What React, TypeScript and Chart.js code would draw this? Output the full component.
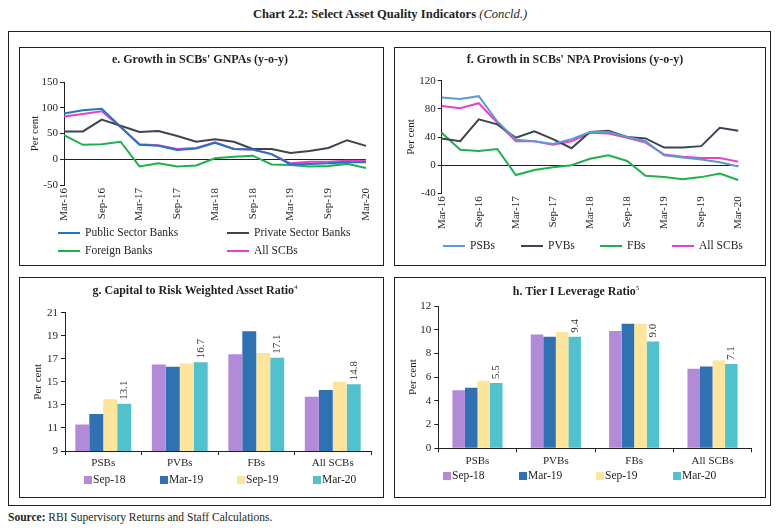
import React, { useEffect, useRef } from 'react';
import { Chart, registerables } from 'chart.js';

Chart.register(...registerables);

const FONT = "'Liberation Serif', 'Times New Roman', serif";
const INK = '#231f20';

// ---------- data ----------
const quarters = ['Mar-16', 'Jun-16', 'Sep-16', 'Dec-16', 'Mar-17', 'Jun-17', 'Sep-17', 'Dec-17', 'Mar-18', 'Jun-18', 'Sep-18', 'Dec-18', 'Mar-19', 'Jun-19', 'Sep-19', 'Dec-19', 'Mar-20'];

// e. Growth in SCBs' GNPAs (y-o-y)
const gnpaPSBs = [89, 95, 98, 63, 28, 26, 18, 21, 32, 20, 19, 10, -10, -9, -8, -6, -6];
const gnpaPVBs = [54, 54, 77, 65, 53, 55, 45, 34, 39, 34, 20, 20, 12, 16, 22, 37, 26];
const gnpaFBs = [47, 28, 29, 34, -14, -8, -14, -12, 2, 5, 7, -10, -11, -14, -13, -9, -17];
const gnpaAll = [83, 88, 93, 62, 29, 27, 20, 22, 33, 20, 19, 10, -8, -5, -5, -3, -3];

// f. Growth in SCBs' NPA Provisions (y-o-y)
const provPSBs = [96, 94, 98, 62, 36, 34, 30, 37, 47, 47, 40, 34, 14, 11, 8, 4, -2];
const provPVBs = [38, 34, 65, 58, 39, 48, 37, 24, 47, 49, 40, 38, 25, 25, 27, 53, 49];
const provFBs = [46, 22, 20, 23, -14, -7, -3, 0, 9, 14, 6, -15, -17, -20, -17, -12, -21];
const provAll = [84, 81, 88, 60, 34, 34, 29, 34, 46, 45, 39, 32, 15, 12, 10, 10, 5];

// g / h bar charts
const bankGroups = ['PSBs', 'PVBs', 'FBs', 'All SCBs'];
const periods = ['Sep-18', 'Mar-19', 'Sep-19', 'Mar-20'];

const crarSep18 = [11.3, 16.5, 17.4, 13.7];
const crarMar19 = [12.2, 16.3, 19.4, 14.3];
const crarSep19 = [13.5, 16.6, 17.5, 15.0];
const crarMar20 = [13.1, 16.7, 17.1, 14.8];

const levSep18 = [4.9, 9.6, 9.9, 6.7];
const levMar19 = [5.1, 9.4, 10.5, 6.9];
const levSep19 = [5.7, 9.8, 10.5, 7.4];
const levMar20 = [5.5, 9.4, 9.0, 7.1];

// ---------- styles ----------
const lineColorsE = ['#1f77c4', '#3d4451', '#1fb04f', '#e840c8'];
const lineColorsF = ['#5b9bd5', '#3d4451', '#1fb04f', '#e840c8'];
const barColors = ['#b38ad8', '#2e72b4', '#fde69b', '#4fc1cf'];

type Box = { x: number; y: number; w: number; h: number };
type Area = { l: number; r: number; t: number; b: number };

function mkLayout(c: Box, a: Area, titleX: number, xH: number) {
  const lh = 11 * 1.2;
  const padLeft = titleX - c.x - lh / 2;
  return {
    padding: { left: padLeft, top: a.t - c.y, right: c.x + c.w - a.r, bottom: c.y + c.h - a.b - xH },
    yW: a.l - c.x - padLeft,
    xH,
  };
}

const tickFont = { family: FONT, size: 11 };

function lineConfig(series: { label: string; data: number[]; color: string }[], yMin: number, yMax: number, step: number, lay: any): any {
  return {
    type: 'line',
    data: {
      labels: quarters,
      datasets: series.map((s) => ({
        label: s.label,
        data: s.data,
        borderColor: s.color,
        backgroundColor: s.color,
        borderWidth: 2,
        pointRadius: 0,
        tension: 0,
        fill: false,
      })),
    },
    options: {
      responsive: false,
      animation: false,
      devicePixelRatio: 1,
      layout: { padding: lay.padding },
      plugins: { legend: { display: false }, title: { display: false }, tooltip: { enabled: false } },
      scales: {
        x: {
          border: { display: false },
          grid: { display: false, drawTicks: false },
          ticks: {
            autoSkip: false,
            maxRotation: 90,
            minRotation: 90,
            padding: 3,
            color: INK,
            font: tickFont,
            callback: (_v: any, i: number) => (i % 2 === 0 ? quarters[i] : ''),
          },
          afterFit: (s: any) => {
            s.height = lay.xH;
            s.paddingLeft = 0;
            s.paddingRight = 0;
          },
        },
        y: {
          min: yMin,
          max: yMax,
          border: { display: true, color: INK, width: 1 },
          grid: {
            color: (c: any) => (c.tick && c.tick.value === 0 ? INK : 'rgba(0,0,0,0)'),
            drawTicks: true,
            tickLength: 4,
            tickColor: INK,
            lineWidth: 1,
          },
          ticks: { stepSize: step, padding: 2, color: INK, font: tickFont },
          title: { display: true, text: 'Per cent', color: INK, font: tickFont, padding: 0 },
          afterFit: (s: any) => {
            s.width = lay.yW;
            s.paddingTop = 0;
            s.paddingBottom = 0;
          },
        },
      },
    },
  };
}

const barLabelPlugin = {
  id: 'lastBarLabels',
  afterDatasetsDraw(chart: any) {
    const ctx = chart.ctx;
    const di = chart.data.datasets.length - 1;
    const meta = chart.getDatasetMeta(di);
    meta.data.forEach((bar: any, i: number) => {
      const v = chart.data.datasets[di].data[i];
      ctx.save();
      ctx.translate(bar.x, bar.y - 4);
      ctx.rotate(-Math.PI / 2);
      ctx.font = `11px ${FONT}`;
      ctx.fillStyle = '#333';
      ctx.textAlign = 'left';
      ctx.textBaseline = 'middle';
      ctx.fillText(Number(v).toFixed(1), 0, 0);
      ctx.restore();
    });
  },
};

function barConfig(values: number[][], yMin: number, yMax: number, step: number, catPct: number, lay: any): any {
  return {
    type: 'bar',
    data: {
      labels: bankGroups,
      datasets: values.map((d, i) => ({
        label: periods[i],
        data: d,
        backgroundColor: barColors[i],
        borderWidth: 0,
        barPercentage: 1,
        categoryPercentage: catPct,
      })),
    },
    options: {
      responsive: false,
      animation: false,
      devicePixelRatio: 1,
      layout: { padding: lay.padding },
      plugins: { legend: { display: false }, title: { display: false }, tooltip: { enabled: false } },
      scales: {
        x: {
          border: { display: true, color: INK, width: 1 },
          grid: { display: true, drawOnChartArea: false, drawTicks: true, tickLength: 4, color: INK, offset: true },
          ticks: { padding: 2, color: INK, font: tickFont, maxRotation: 0 },
          afterFit: (s: any) => {
            s.height = lay.xH;
            s.paddingLeft = 0;
            s.paddingRight = 0;
          },
        },
        y: {
          min: yMin,
          max: yMax,
          border: { display: true, color: INK, width: 1 },
          grid: { drawOnChartArea: false, drawTicks: true, tickLength: 4, color: INK },
          ticks: { stepSize: step, padding: 3, color: INK, font: tickFont },
          title: { display: true, text: 'Per cent', color: INK, font: tickFont, padding: 0 },
          afterFit: (s: any) => {
            s.width = lay.yW;
            s.paddingTop = 0;
            s.paddingBottom = 0;
          },
        },
      },
    },
    plugins: [barLabelPlugin],
  };
}

function ChartCanvas({ box, makeConfig }: { box: Box; makeConfig: () => any }) {
  const ref = useRef<HTMLCanvasElement | null>(null);
  useEffect(() => {
    const chart = new Chart(ref.current as HTMLCanvasElement, makeConfig());
    return () => chart.destroy();
  }, []);
  return (
    <canvas
      ref={ref}
      width={box.w}
      height={box.h}
      style={{ position: 'absolute', left: box.x, top: box.y, width: box.w, height: box.h }}
    />
  );
}

function T({ x, y, children, align = 'center', style = {} }: any) {
  const tx = align === 'center' ? '-50%' : align === 'right' ? '-100%' : '0';
  return (
    <div
      style={{
        position: 'absolute',
        left: x,
        top: y,
        transform: `translate(${tx}, -50%)`,
        whiteSpace: 'nowrap',
        fontFamily: FONT,
        fontSize: 11,
        color: INK,
        lineHeight: 1,
        ...style,
      }}
    >
      {children}
    </div>
  );
}

function Frame({ x, y, w, h }: any) {
  return <div style={{ position: 'absolute', left: x, top: y, width: w, height: h, border: `1px solid ${INK}`, boxSizing: 'border-box' }} />;
}

function LineKey({ x, y, color, label }: any) {
  return (
    <>
      <div style={{ position: 'absolute', left: x, top: y - 1.25, width: 22, height: 2.5, background: color }} />
      <T x={x + 27} y={y} align="left" style={{ fontSize: 11.5 }}>{label}</T>
    </>
  );
}

function BoxKey({ x, y, color, label }: any) {
  return (
    <>
      <div style={{ position: 'absolute', left: x, top: y - 4, width: 8, height: 8, background: color }} />
      <T x={x + 9} y={y} align="left" style={{ fontSize: 11.5 }}>{label}</T>
    </>
  );
}

export default function App() {
  const boxE: Box = { x: 20, y: 48, w: 362, h: 216 };
  const boxF: Box = { x: 395, y: 48, w: 369, h: 216 };
  const boxG: Box = { x: 20, y: 278, w: 362, h: 218 };
  const boxH: Box = { x: 395, y: 278, w: 369, h: 218 };

  const layE = mkLayout(boxE, { l: 64, r: 366, t: 82, b: 185 }, 35, 40);
  const layF = mkLayout(boxF, { l: 441.7, r: 738.3, t: 80.7, b: 193.3 }, 411, 40);
  const layG = mkLayout(boxG, { l: 65, r: 371, t: 312.7, b: 451 }, 38, 20);
  const layH = mkLayout(boxH, { l: 438.3, r: 751.7, t: 306, b: 448.3 }, 413, 20);

  const seriesE = [
    { label: 'Public Sector Banks', data: gnpaPSBs, color: lineColorsE[0] },
    { label: 'Private Sector Banks', data: gnpaPVBs, color: lineColorsE[1] },
    { label: 'Foreign Banks', data: gnpaFBs, color: lineColorsE[2] },
    { label: 'All SCBs', data: gnpaAll, color: lineColorsE[3] },
  ];
  const seriesF = [
    { label: 'PSBs', data: provPSBs, color: lineColorsF[0] },
    { label: 'PVBs', data: provPVBs, color: lineColorsF[1] },
    { label: 'FBs', data: provFBs, color: lineColorsF[2] },
    { label: 'All SCBs', data: provAll, color: lineColorsF[3] },
  ];

  const titleStyle = { fontWeight: 700, fontSize: 12 };

  return (
    <div style={{ position: 'fixed', left: 0, top: 0, width: 776, height: 528, background: '#fff', overflow: 'hidden' }}>
      <T x={390} y={14} style={{ fontSize: 12.6 }}>
        <span style={{ fontWeight: 700 }}>Chart 2.2: Select Asset Quality Indicators </span>
        <span style={{ fontStyle: 'italic' }}>(Concld.)</span>
      </T>

      <Frame x={8} y={31} w={763} h={475} />
      <Frame x={19} y={47} w={365} h={219} />
      <Frame x={394} y={47} w={372} h={219} />
      <Frame x={19} y={277} w={365} h={221} />
      <Frame x={394} y={277} w={372} h={221} />

      <ChartCanvas box={boxE} makeConfig={() => lineConfig(seriesE, -50, 150, 50, layE)} />
      <ChartCanvas box={boxF} makeConfig={() => lineConfig(seriesF, -40, 120, 20, layF)} />
      <ChartCanvas box={boxG} makeConfig={() => barConfig([crarSep18, crarMar19, crarSep19, crarMar20], 9, 21, 2, 0.73, layG)} />
      <ChartCanvas box={boxH} makeConfig={() => barConfig([levSep18, levMar19, levSep19, levMar20], 0, 12, 2, 0.64, layH)} />

      <T x={200} y={59} style={titleStyle}>e. Growth in SCBs' GNPAs (y-o-y)</T>
      <T x={575} y={59} style={titleStyle}>f. Growth in SCBs' NPA Provisions (y-o-y)</T>
      <T x={195} y={290} style={titleStyle}>
        g. Capital to Risk Weighted Asset Ratio<sup style={{ fontSize: 7, fontWeight: 400 }}>4</sup>
      </T>
      <T x={576} y={291} style={titleStyle}>
        h. Tier I Leverage Ratio<sup style={{ fontSize: 7, fontWeight: 400 }}>5</sup>
      </T>

      <LineKey x={58} y={233} color={lineColorsE[0]} label="Public Sector Banks" />
      <LineKey x={227} y={233} color={lineColorsE[1]} label="Private Sector Banks" />
      <LineKey x={58} y={251} color={lineColorsE[2]} label="Foreign Banks" />
      <LineKey x={227} y={251} color={lineColorsE[3]} label="All SCBs" />

      <LineKey x={443} y={246} color={lineColorsF[0]} label="PSBs" />
      <LineKey x={521} y={246} color={lineColorsF[1]} label="PVBs" />
      <LineKey x={600} y={246} color={lineColorsF[2]} label="FBs" />
      <LineKey x={672} y={246} color={lineColorsF[3]} label="All SCBs" />

      <BoxKey x={84} y={480} color={barColors[0]} label={periods[0]} />
      <BoxKey x={160} y={480} color={barColors[1]} label={periods[1]} />
      <BoxKey x={237} y={480} color={barColors[2]} label={periods[2]} />
      <BoxKey x={313} y={480} color={barColors[3]} label={periods[3]} />

      <BoxKey x={443} y={476} color={barColors[0]} label={periods[0]} />
      <BoxKey x={519} y={476} color={barColors[1]} label={periods[1]} />
      <BoxKey x={596} y={476} color={barColors[2]} label={periods[2]} />
      <BoxKey x={673} y={476} color={barColors[3]} label={periods[3]} />

      <T x={8} y={518} align="left" style={{ fontSize: 11.5 }}>
        <span style={{ fontWeight: 700 }}>Source:</span> RBI Supervisory Returns and Staff Calculations.
      </T>
    </div>
  );
}
